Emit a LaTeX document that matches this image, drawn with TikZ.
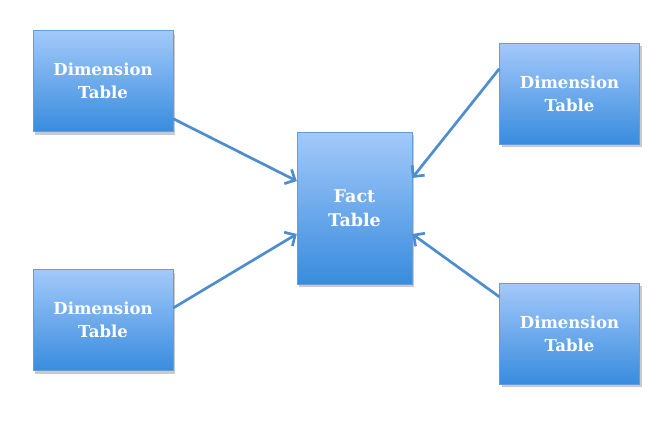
\documentclass[tikz,border=0pt]{standalone}
\usepackage{fontspec}
\setmainfont{DejaVu Serif}
\usetikzlibrary{calc,arrows.meta,shadows}

\definecolor{boxtop}{RGB}{163,201,250}
\definecolor{boxbot}{RGB}{56,140,222}
\definecolor{boxline}{RGB}{100,158,214}
\definecolor{arrowblue}{RGB}{78,142,206}

\begin{document}
\begin{tikzpicture}[x=1pt,y=-1pt,
table/.style={rectangle, draw=boxline, top color=boxtop, bottom color=boxbot,
  text=white, font=\bfseries\fontsize{16.5}{23}\selectfont, align=center, inner sep=0pt,
  drop shadow={shadow xshift=2pt, shadow yshift=-3pt, opacity=0.35, fill=black!60}},
dim/.style={table, minimum width=140pt, minimum height=101pt},
fact/.style={table, minimum width=115pt, minimum height=152pt, font=\bfseries\fontsize{17.5}{24}\selectfont},
link/.style={draw=arrowblue, line width=2.7pt, -{Straight Barb[length=8pt,width=16pt]}}]

%% canvas of the picture
\useasboundingbox (0,0) rectangle (670,423);

%% the fact table in the middle
\node[fact] (F) at (354.5,208) {Fact\\Table};

%% dimension tables round it
\node[dim] (D-1) at (103,81) {Dimension\\Table};
\node[dim] (D-2) at (103,320) {Dimension\\Table};
\node[dim] (D-3) at (569.5,93.5) {Dimension\\Table};
\node[dim] (D-4) at (569.5,333.5) {Dimension\\Table};

%% links from the left tables
\draw[link] ([yshift=13pt]D-1.south east) -- ([yshift=27pt]F.west);
\draw[link] ([yshift=12pt]D-2.east) -- ([yshift=-26pt]F.west);

%% links from the right tables
\foreach \d/\s/\e in {3/-26/30, 4/-14/-26}
      \draw[link] ([yshift=\s pt]D-\d.north west) -- ([yshift=\e pt]F.east);

\end{tikzpicture}
\end{document}
